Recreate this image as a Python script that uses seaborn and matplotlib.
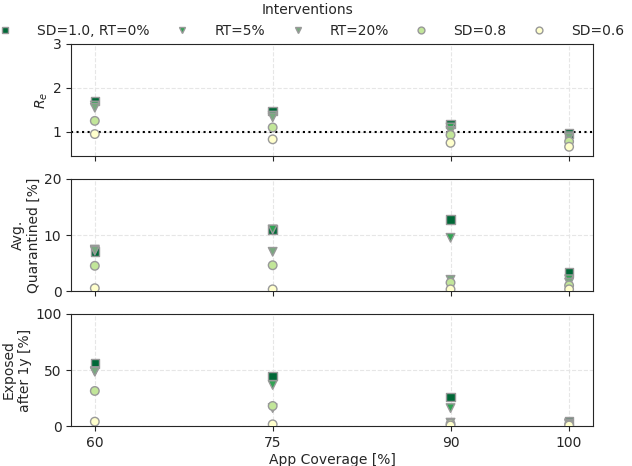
import numpy as np
import pandas as pd
import seaborn as sns
import matplotlib.pyplot as plt

# ── Data ──────────────────────────────────────────────────────────────────────
coverage = [60, 75, 90, 100]
interventions = ["SD=1.0, RT=0%", "RT=5%", "RT=20%", "SD=0.8", "SD=0.6"]

re_vals = {
    "SD=1.0, RT=0%": [1.70, 1.47, 1.18, 0.96],
    "RT=5%":         [1.60, 1.37, 1.10, 0.90],
    "RT=20%":        [1.55, 1.33, 1.02, 0.87],
    "SD=0.8":        [1.25, 1.10, 0.93, 0.78],
    "SD=0.6":        [0.95, 0.83, 0.75, 0.66],
}
quarantined = {
    "SD=1.0, RT=0%": [7.1, 11.0, 12.8, 3.3],
    "RT=5%":         [7.4, 11.0, 9.5, 2.1],
    "RT=20%":        [7.2, 7.0, 2.0, 1.5],
    "SD=0.8":        [4.5, 4.6, 1.5, 1.0],
    "SD=0.6":        [0.5, 0.3, 0.3, 0.3],
}
exposed = {
    "SD=1.0, RT=0%": [55.6, 44.6, 26.0, 4.0],
    "RT=5%":         [49.0, 36.6, 16.0, 2.5],
    "RT=20%":        [48.5, 16.0, 3.0, 1.8],
    "SD=0.8":        [31.3, 17.9, 2.0, 1.2],
    "SD=0.6":        [3.9, 1.5, 0.5, 0.5],
}

colors  = ["#006837", "#31a354", "#78a97f", "#c2e699", "#ffffcc"]
markers = ["s", "v", "v", "o", "o"]

rows = []
for name in interventions:
    for i, c in enumerate(coverage):
        rows.append({"coverage": c, "intervention": name,
                     "re": re_vals[name][i], "quar": quarantined[name][i],
                     "exp": exposed[name][i]})
df = pd.DataFrame(rows)

# ── Plot ──────────────────────────────────────────────────────────────────────
sns.set_style("ticks")
plt.rcParams["font.family"] = ["DejaVu Sans"]

fig, axes = plt.subplots(3, 1, figsize=(6.32, 4.66), dpi=100, sharex=True)
fig.subplots_adjust(left=0.1125, right=0.938, top=0.9056, bottom=0.0858, hspace=0.205)

panels = [("re", "$R_e$", (0.45, 3), [1, 2, 3]),
          ("quar", "Avg.\nQuarantined [%]", (0, 20), [0, 10, 20]),
          ("exp", "Exposed\nafter 1y [%]", (0, 100), [0, 50, 100])]

for ax, (col, label, ylim, yticks) in zip(axes, panels):
    sns.scatterplot(data=df, x="coverage", y=col, hue="intervention",
                    style="intervention", hue_order=interventions,
                    style_order=interventions, palette=colors,
                    markers=dict(zip(interventions, markers)),
                    s=38, edgecolor="#999999", linewidth=1, ax=ax,
                    legend=(col == "re"), zorder=3)
    ax.set_ylim(*ylim)
    ax.set_yticks(yticks)
    ax.set_ylabel(label, labelpad=2)
    ax.grid(True, linestyle="--", color="#e6e6e6", linewidth=0.8)
    ax.set_axisbelow(True)
    ax.set_xlabel("")

axes[0].axhline(1, color="black", linestyle=":", linewidth=1.5, zorder=2)
axes[-1].set_xticks(coverage)
axes[-1].set_xlabel("App Coverage [%]", labelpad=2)

handles, labels = axes[0].get_legend_handles_labels()
axes[0].get_legend().remove()
fig.legend(handles, labels, title="Interventions", ncol=5, frameon=False,
           loc="upper center", bbox_to_anchor=(0.487, 1.012),
           columnspacing=1.35, handletextpad=1.3, borderaxespad=0.2,
           markerscale=0.8, fontsize=10, title_fontsize=10)

plt.savefig("out.png", dpi=100)
